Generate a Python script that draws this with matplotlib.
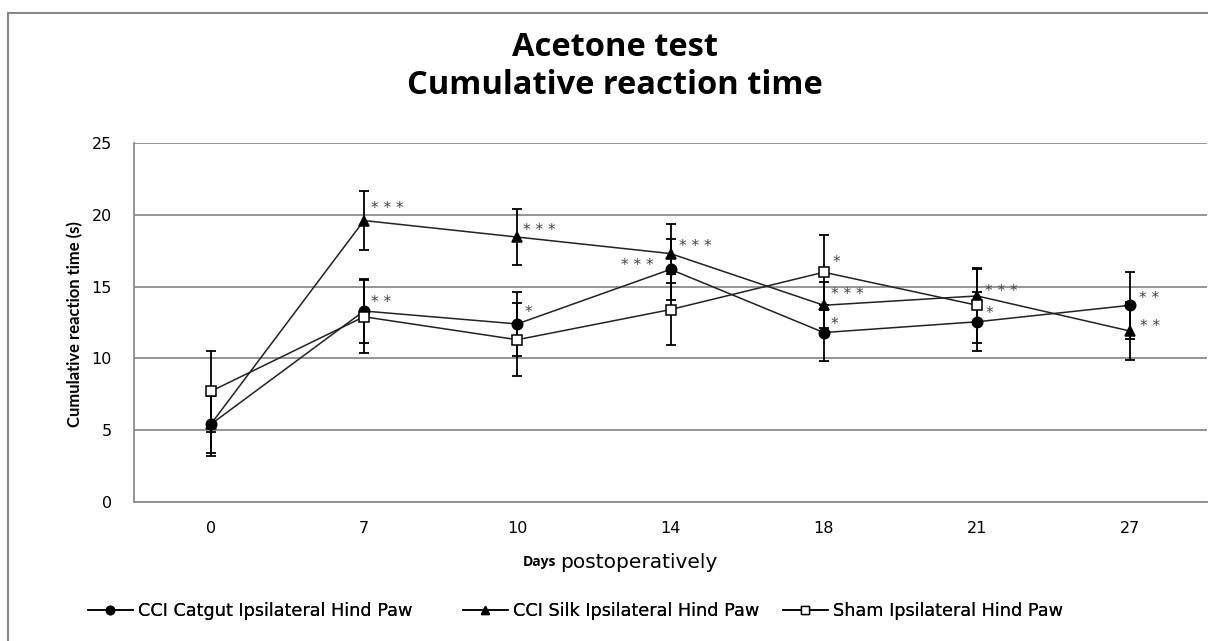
import matplotlib.pyplot as plt
import numpy as np
from matplotlib.lines import Line2D

# dane
dni = ['0', '7', '10', '14', '18', '21', '27']

catgut = [5.4, 13.3, 12.4, 16.2, 11.8, 12.55, 13.7]
catgut_err = [2.0, 2.2, 2.25, 2.1, 1.95, 2.05, 2.35]
catgut_gw = ['', '**', '*', '***', '*', '*', '**']

silk = [5.4, 19.6, 18.45, 17.3, 13.7, 14.35, 11.9]
silk_err = [2.2, 2.05, 1.95, 2.05, 1.6, 1.85, 2.0]
silk_gw = ['', '***', '***', '***', '***', '***', '**']

sham = [7.7, 12.9, 11.3, 13.4, 16.0, 13.7, np.nan]
sham_err = [2.85, 2.55, 2.55, 2.5, 2.6, 2.6, np.nan]
sham_gw = ['', '', '', '', '*', '', '']

W, H = 1208, 641
fig = plt.figure(figsize=(W / 100, H / 100), dpi=100)

# ramka wykresu (lewa i gorna krawedz)
fig.add_artist(Line2D([8 / W, 8 / W], [0, 1 - 13 / H], color='#888888', lw=1.5))
fig.add_artist(Line2D([8 / W, 1], [1 - 13 / H, 1 - 13 / H], color='#888888', lw=1.5))

ax = fig.add_axes([134 / W, 1 - 502 / H, 1073 / W, 359 / H])
x = np.arange(len(dni))

serie = [
    (catgut, catgut_err, catgut_gw, 'o', 'black', 'CCI Catgut Ipsilateral Hind Paw'),
    (silk, silk_err, silk_gw, '^', 'black', 'CCI Silk Ipsilateral Hind Paw'),
    (sham, sham_err, sham_gw, 's', 'white', 'Sham Ipsilateral Hind Paw'),
]

# przesuniecia gwiazdek (w punktach) dla kazdej serii
przes = {
    0: [(0, 0), (5, 6), (5, 8), (-12, 3), (5, 6), (6, 6), (6, 5)],
    1: [(0, 0), (5, 9), (4, 5), (6, 5), (5, 8), (6, 3), (7, 3)],
    2: [(0, 0), (0, 0), (0, 0), (0, 0), (6, 7), (0, 0), (0, 0)],
}

uchwyty = []
for i, (y, err, gw, mk, fc, nazwa) in enumerate(serie):
    ax.errorbar(x, y, yerr=err, fmt='none', ecolor='black', elinewidth=1.3,
                capsize=3.6, capthick=1.3, zorder=3)
    ax.plot(x, y, color='#222222', lw=1.1, zorder=2)
    ax.plot(x, y, linestyle='none', marker=mk, markersize=7.5 if mk != 's' else 6.5,
            markerfacecolor=fc, markeredgecolor='black', markeredgewidth=1.1, zorder=4)
    uchwyty.append(Line2D([], [], color='black', lw=1.1, marker=mk,
                          markersize=6 if mk != 's' else 5.5,
                          markerfacecolor=fc, markeredgecolor='black'))
    for j, t in enumerate(gw):
        if t:
            dx, dy = przes[i][j]
            ax.annotate(' '.join(t), (x[j], y[j]), xytext=(dx, dy), textcoords='offset points',
                        ha='right' if dx < 0 else 'left', va='center',
                        fontsize=11, color='#444444')

ax.set_xlim(-0.5, len(dni) - 0.5)
ax.set_ylim(0, 25)
ax.set_yticks([0, 5, 10, 15, 20, 25])
ax.set_xticks(x)
ax.set_xticklabels(dni)
ax.tick_params(length=0, labelsize=11.5, pad=14)
ax.tick_params(axis='y', pad=16)
ax.yaxis.grid(True, color='#8c8c8c', lw=1.3)
ax.set_axisbelow(True)
for s in ['top', 'right']:
    ax.spines[s].set_visible(False)
for s in ['left', 'bottom']:
    ax.spines[s].set_color('#8c8c8c')
    ax.spines[s].set_linewidth(1.3)

fig.text(615 / W, 1 - 47 / H, 'Acetone test', ha='center', va='center',
         fontsize=23.5, fontweight='bold', family='Open Sans')
fig.text(615 / W, 1 - 86 / H, 'Cumulative reaction time', ha='center', va='center',
         fontsize=23.5, fontweight='bold', family='Open Sans')
fig.text(75 / W, 1 - 324 / H, 'Cumulative reaction time (s)', rotation=90, ha='center',
         va='center', fontsize=12, fontweight='bold', family='Lato')
fig.text(556 / W, 1 - 562 / H, 'Days', ha='right', va='center', fontsize=10,
         fontweight='bold', family='Open Sans')
fig.text(560 / W, 1 - 562 / H, 'postoperatively', ha='left', va='center', fontsize=14.5)

# legenda - trzy wpisy w stalych kolumnach
kolumny = [88, 463, 783]
for h, s, px in zip(uchwyty, serie, kolumny):
    lg = fig.legend([h], [s[5]], loc='center left', bbox_to_anchor=(px / W, 1 - 611 / H),
                    frameon=False, fontsize=12.7, handlelength=2.55, handletextpad=0.3,
                    borderaxespad=0, borderpad=0)
    fig.add_artist(lg)

fig.savefig('out.png', dpi=100)
